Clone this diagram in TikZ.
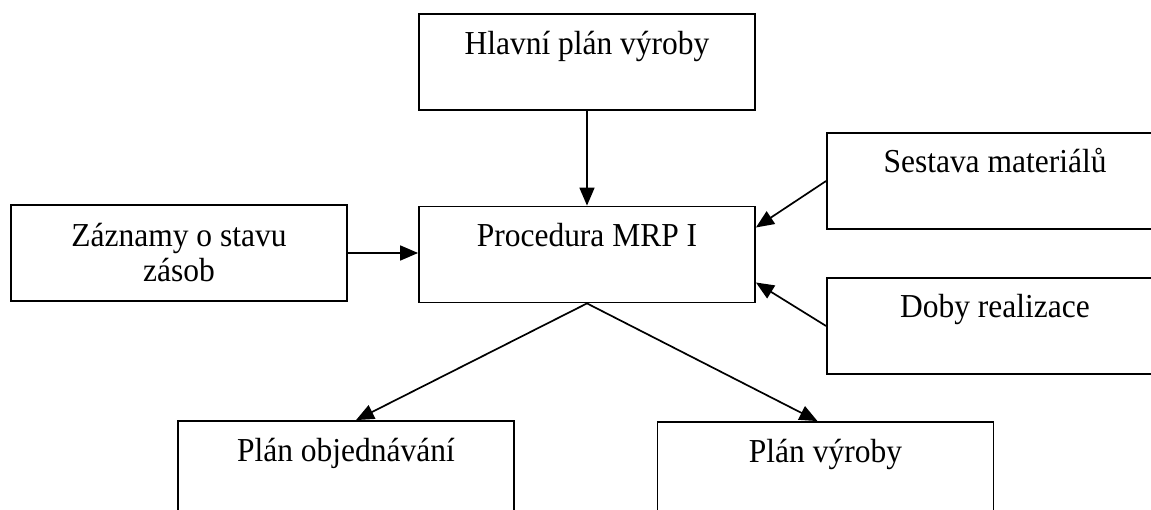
\documentclass[tikz,border=0pt]{standalone}
\usepackage{fontspec}
\setmainfont{Liberation Serif}[FakeStretch=0.94]
\usetikzlibrary{arrows.meta,calc}

\tikzset{
  box/.style={draw=black, line width=1.8pt, minimum width=336pt, minimum height=96pt,
              inner sep=0pt, fill=white},
  boxtext/.style={anchor=base, inner sep=0pt, align=center,
                  font=\fontsize{33.5}{35}\selectfont},
  flow/.style={line width=1.7pt, -{Triangle[length=18pt,width=15pt]}}
}

\begin{document}
\begin{tikzpicture}[x=1pt,y=-1pt]
  \clip (0,0) rectangle (1151,510);
  \fill[white] (0,0) rectangle (1151,510);

  % boxes
  \node[box] (hlavni)  at (587,62)    {};
  \node[box] (proc)    at (587,254.5) {};
  \node[box] (zaznamy) at (179,253)   {};
  \node[box] (sestava) at (995,181)   {};
  \node[box] (doby)    at (995,326)   {};
  \node[box] (objed)   at (346,469)   {};
  \node[box] (vyroba)  at (825.5,470) {};

  % texts, set near the top edge of each box (base = last line)
  \node[boxtext] (hlavni-t)  at ($(hlavni.north)+(0,41)$)  {Hlavní plán výroby};
  \node[boxtext] (proc-t)    at ($(proc.north)+(0,41)$)    {Procedura MRP I};
  \node[boxtext] (zaznamy-t) at ($(zaznamy.north)+(0,77)$) {Záznamy o stavu\\zásob};
  \node[boxtext] (sestava-t) at ($(sestava.north)+(0,40)$) {Sestava materiálů};
  \node[boxtext] (doby-t)    at ($(doby.north)+(0,40)$)    {Doby realizace};
  \node[boxtext] (objed-t)   at ($(objed.north)+(0,41)$)   {Plán objednávání};
  \node[boxtext] (vyroba-t)  at ($(vyroba.north)+(0,41)$)  {Plán výroby};

  % connectors
  \coordinate (proc-in1) at ($(proc.east)+(0,-27)$);
  \coordinate (proc-in2) at ($(proc.east)+(0,28)$);
  \coordinate (objed-in) at ($(objed.north)+(10,0)$);
  \coordinate (vyroba-in) at ($(vyroba.north)+(-8,0)$);

  \draw[flow] (hlavni.south) -- (proc.north);
  \draw[flow] (zaznamy.east) -- (zaznamy.east -| proc.west);
  \draw[flow] (sestava.west) -- (proc-in1);
  \draw[flow] (doby.west) -- (proc-in2);
  \draw[flow] (proc.south) -- (objed-in);
  \draw[flow] (proc.south) -- (vyroba-in);
\end{tikzpicture}
\end{document}
